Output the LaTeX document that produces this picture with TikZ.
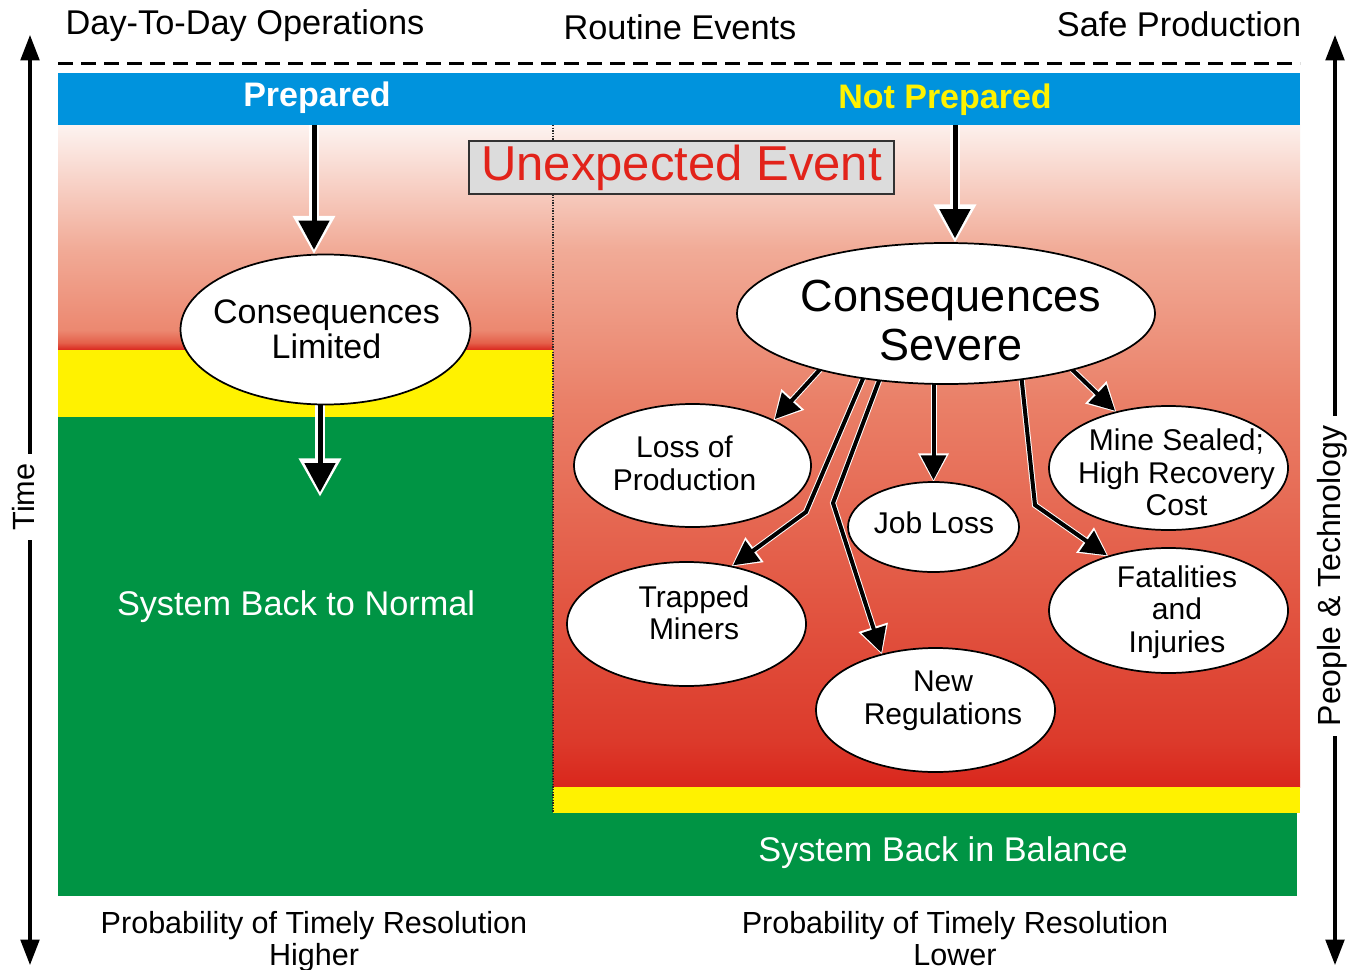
\documentclass[tikz,border=0pt]{standalone}
\usepackage{fontspec}
\setmainfont{Liberation Sans}
\usetikzlibrary{arrows.meta,shapes.geometric}
\definecolor{barblue}{RGB}{0,147,221}
\definecolor{grn}{RGB}{0,148,68}
\definecolor{yel}{RGB}{255,242,0}
\definecolor{rd}{RGB}{217,38,28}
\definecolor{evred}{RGB}{226,35,26}
\definecolor{boxgray}{RGB}{220,220,220}
\definecolor{boxline}{RGB}{50,50,50}
\definecolor{lA}{RGB}{228,96,74}
\definecolor{lB}{RGB}{236,136,112}
\definecolor{lC}{RGB}{241,170,150}
\definecolor{lD}{RGB}{253,243,240}
\definecolor{rA}{RGB}{220,58,43}
\definecolor{rB}{RGB}{226,86,66}
\definecolor{rC}{RGB}{234,128,104}
\definecolor{rD}{RGB}{241,171,151}
\definecolor{rE}{RGB}{253,240,236}
\pgfdeclareverticalshading{leftgrad}{100bp}{color(0bp)=(rd); color(25bp)=(rd); color(26.6bp)=(lA); color(29.4bp)=(lB); color(47.2bp)=(lC); color(75bp)=(lD); color(100bp)=(lD)}
\pgfdeclareverticalshading{rightgrad}{100bp}{color(0bp)=(rd); color(25bp)=(rd); color(28.5bp)=(rA); color(39.1bp)=(rB); color(54.2bp)=(rC); color(65.6bp)=(rD); color(75bp)=(rE); color(100bp)=(rE)}
\newcommand\bighalocon[1]{\draw[bighalo] #1; \draw[bigcore] #1;}
\newcommand\halocon[1]{\draw[halo] #1; \draw[core] #1;}
\tikzset{
  ell/.style={ellipse, draw=black, line width=1.3pt, fill=white, inner sep=0pt, outer sep=0pt},
  txt/.style={inner sep=0pt, align=center, text=black},
  ftop/.style={font=\fontsize{25.75pt}{27pt}\selectfont},
  fbar/.style={font=\fontsize{25.5pt}{26pt}\selectfont\bfseries},
  fev/.style={font=\fontsize{36.75pt}{38pt}\selectfont},
  fcl/.style={font=\fontsize{25.5pt}{26.25pt}\selectfont},
  fsev/.style={font=\fontsize{33.75pt}{36.75pt}\selectfont},
  fsm/.style={font=\fontsize{22.5pt}{24.4pt}\selectfont},
  fbot/.style={font=\fontsize{22.9pt}{24pt}\selectfont},
  fsys/.style={font=\fontsize{25.7pt}{26pt}\selectfont},
  bighalo/.style={draw=white, line width=8pt, -{Triangle[length=29pt,width=30pt]}},
  bigcore/.style={draw=black, line width=3.75pt, shorten >=3.5pt, -{Triangle[length=22pt,width=22.5pt]}},
  halo/.style={draw=white, line width=4.5pt, -{Triangle[length=21.5pt,width=22pt]}},
  core/.style={draw=black, line width=3pt, shorten >=1.5pt, -{Triangle[length=18.5pt,width=18.5pt]}},
  axisline/.style={draw=black, line width=2.3pt, {Triangle[length=19pt,width=14pt]}-{Triangle[length=19pt,width=14pt]}},
  axislbl/.style={fill=white, inner xsep=7pt, inner ysep=1pt, rotate=90, text=black},
}
\begin{document}
\begin{tikzpicture}[x=0.75pt,y=-0.75pt]
\useasboundingbox (0,0) rectangle (1359,970);
\fill[white] (0,0) rectangle (1359,970);
% panels
\shade[shading=leftgrad] (58,125) rectangle (553,350);
\fill[yel] (58,350) rectangle (553,417);
\fill[grn] (58,417) rectangle (553,896);
\shade[shading=rightgrad] (553,125) rectangle (1300,787);
\fill[yel] (553,787) rectangle (1300,813);
\fill[grn] (553,813) rectangle (1297,896);
\draw[black!85, line width=0.8pt, dash pattern=on 1pt off 1pt] (553,125) -- (553,813);
% blue bar
\fill[barblue] (58,73) rectangle (1300,125);
\node[txt, fbar, text=white] (prep) at (317,98) {Prepared};
\node[txt, fbar, text=yel] (notprep) at (945,99.5) {Not Prepared};
% dashed line
\draw[line width=2.25pt, dash pattern=on 11.25pt off 6pt] (58,64) -- (1300,64);
% top labels
\node[txt, ftop] (dtd) at (245,26) {Day-To-Day Operations};
\node[txt, ftop] (routine) at (680,27) {Routine Events};
\node[txt, ftop] (safe) at (1179,24) {Safe Production};
% unexpected event
\node[draw=boxline, fill=boxgray, line width=1.5pt, minimum width=318.75pt, minimum height=39.75pt, inner sep=0pt, text=evred, fev] (ue) at (681.5,167.5) {Unexpected Event};
% coordinates
\coordinate (pA) at (314,125);
\coordinate (pB) at (955,125);
\coordinate (pD) at (320,497);
\coordinate (wTM) at (806,512);
\coordinate (wNR) at (833,503);
\coordinate (wFI) at (1035,505);
% ellipse positions (drawn after arrows)
\node[ell, draw=none, fill=none, minimum width=217.5pt, minimum height=112.5pt] (cl) at (325.5,329.5) {};
\node[ell, draw=none, fill=none, minimum width=313.5pt, minimum height=105.75pt] (sev) at (946,313.5) {};
\node[ell, draw=none, fill=none, minimum width=177.75pt, minimum height=92.25pt] (lop) at (692.5,465.5) {};
\node[ell, draw=none, fill=none, minimum width=128.25pt, minimum height=67.5pt] (jl) at (933.5,527) {};
\node[ell, draw=none, fill=none, minimum width=179.25pt, minimum height=93pt] (ms) at (1168.5,468) {};
\node[ell, draw=none, fill=none, minimum width=179.25pt, minimum height=93pt] (tm) at (686.5,624) {};
\node[ell, draw=none, fill=none, minimum width=179.25pt, minimum height=93.75pt] (fi) at (1168.5,610.5) {};
\node[ell, draw=none, fill=none, minimum width=179.25pt, minimum height=93pt] (nr) at (935.5,710) {};
% arrows
\bighalocon{(pA) -- (pA |- cl.north)}
\bighalocon{(pB) -- (pB |- sev.north)}
\bighalocon{(cl.south -| pD) -- (pD)}
\halocon{(sev.204) -- (lop.29)}
\halocon{(sev.218) -- (wTM) -- (tm.52)}
\halocon{(sev.225) -- (wNR) -- (nr.134)}
\halocon{(sev.south -| jl.north) -- (jl.north)}
\halocon{(sev.319) -- (wFI) -- (fi.138)}
\halocon{(sev.336) -- (ms.133)}
% ellipses
\node[ell, minimum width=217.5pt, minimum height=112.5pt] (clE) at (cl) {};
\node[ell, minimum width=313.5pt, minimum height=105.75pt] (sevE) at (sev) {};
\node[ell, minimum width=177.75pt, minimum height=92.25pt] (lopE) at (lop) {};
\node[ell, minimum width=128.25pt, minimum height=67.5pt] (jlE) at (jl) {};
\node[ell, minimum width=179.25pt, minimum height=93pt] (msE) at (ms) {};
\node[ell, minimum width=179.25pt, minimum height=93pt] (tmE) at (tm) {};
\node[ell, minimum width=179.25pt, minimum height=93.75pt] (fiE) at (fi) {};
\node[ell, minimum width=179.25pt, minimum height=93pt] (nrE) at (nr) {};
% ellipse texts
\node[txt, fcl] (clt) at (326.5,329.5) {Consequences\\Limited};
\node[txt, fsev] (sevt) at (951,320.5) {Consequences\\Severe};
\node[txt, fsm] (lopt) at (684.5,463.5) {Loss of\\Production};
\node[txt, fsm] (jlt) at (934,523) {Job Loss};
\node[txt, fsm] (mst) at (1176.5,472.5) {Mine Sealed;\\High Recovery\\Cost};
\node[txt, fsm] (tmt) at (694,613) {Trapped\\Miners};
\node[txt, fsm] (fit) at (1177,612) {Fatalities\\and\\Injuries};
\node[txt, fsm] (nrt) at (943,701) {New\\Regulations};
% system texts
\node[txt, fsys, text=white] (sbn) at (296,607) {System Back to Normal};
\node[txt, fsys, text=white] (sbb) at (943,853) {System Back in Balance};
% bottom texts
\node[txt, fbot] (bl) at (314,942) {Probability of Timely Resolution\\Higher};
\node[txt, fbot] (br) at (955,939) {Probability of Timely Resolution\\Lower};
% axes
\coordinate (lt) at (30,35);
\coordinate (lb) at (30,965);
\coordinate (rt) at (1335,35);
\coordinate (rb) at (1335,965);
\draw[axisline] (lb) -- (lt);
\draw[axisline] (rb) -- (rt);
\node[axislbl, font=\fontsize{23pt}{24pt}\selectfont] (time) at (24,497) {Time};
\node[axislbl, font=\fontsize{24pt}{25pt}\selectfont] (pt) at (1332,576) {People \& Technology};
\end{tikzpicture}
\end{document}
